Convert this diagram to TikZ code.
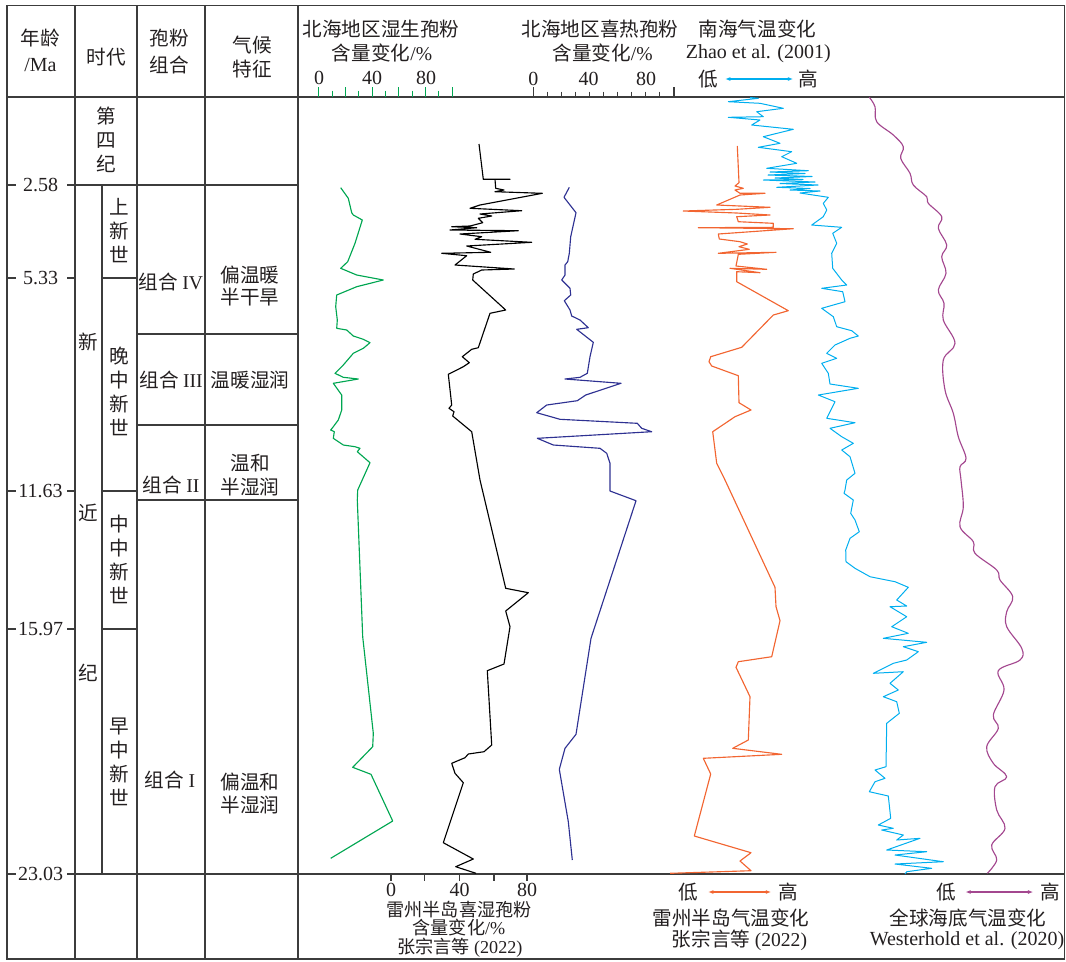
\documentclass[tikz,border=0pt]{standalone}
\usepackage{fontspec}
\setmainfont{Liberation Serif}
\newfontfamily\cjk{Noto Sans CJK SC}
\usetikzlibrary{arrows.meta}
\definecolor{frame}{RGB}{60,60,60}
\definecolor{txt}{RGB}{35,31,32}
\definecolor{cgreen}{RGB}{0,166,81}
\definecolor{cblue}{RGB}{46,49,146}
\definecolor{corange}{RGB}{242,101,49}
\definecolor{ccyan}{RGB}{0,174,239}
\definecolor{cpurple}{RGB}{163,71,143}
\begin{document}
\begin{tikzpicture}[x=0.75pt,y=-0.75pt,
  frameline/.style={draw=frame,line width=0.9pt},
  zh/.style={inner sep=0pt,text=txt,font=\cjk\fontsize{14.7}{18}\selectfont,align=center},
  zhs/.style={inner sep=0pt,text=txt,font=\cjk\fontsize{13.6}{16}\selectfont,align=center},
  la/.style={inner sep=0pt,text=txt,font=\fontsize{15}{18}\selectfont,align=center},
  curve/.style={line width=0.85pt,line join=round},
  dblarrow/.style={line width=0.8pt,{Latex[length=4pt,width=3pt]}-{Latex[length=4pt,width=3pt]}}
]
\useasboundingbox (0,0) rectangle (1066,961);

% ---------- frame ----------
\draw[frameline] (7,5.7) rectangle (1064.5,959);
\draw[frameline] (7,97) -- (1064.5,97);
\foreach \xx in {75,137,205,298} \draw[frameline] (\xx,5.7) -- (\xx,959);
\draw[frameline] (102,185) -- (102,874);
\draw[frameline] (67,185) -- (298,185);
\draw[frameline] (102,278) -- (137,278);
\draw[frameline] (137,334) -- (298,334);
\draw[frameline] (137,425) -- (298,425);
\draw[frameline] (102,491) -- (137,491);
\draw[frameline] (137,500) -- (298,500);
\draw[frameline] (102,629) -- (137,629);
\draw[frameline] (67,874) -- (1064.5,874);
\foreach \yy in {185,278,491,629,874} \draw[frameline] (7,\yy) -- (15.5,\yy);
\foreach \yy in {278,491,629} \draw[frameline] (67,\yy) -- (75,\yy);

% ---------- header texts ----------
\node[zh] (hAge) at (40,38.3) {年龄};
\node[la] (hMa) at (40.5,65) {/Ma};
\node[zh] (hEra) at (106,56.7) {时代};
\node[zh] (hPol1) at (169.5,38.3) {孢粉};
\node[zh] (hPol2) at (169.5,65) {组合};
\node[zh] (hCli1) at (252.5,45) {气候};
\node[zh] (hCli2) at (252.5,69) {特征};

\node[zh] (t1a) at (381,29.3) {北海地区湿生孢粉};
\node[zh] (t1b) at (382,53.3) {含量变化{\rmfamily /\%}};
\node[la] (s1a) at (319,78.3) {0};
\node[la] (s1b) at (372,78.3) {40};
\node[la] (s1c) at (426,78.3) {80};
\foreach \i in {0,...,10}{
  \pgfmathsetmacro{\xx}{318.8+13.35*\i}
  \ifodd\i \draw[cgreen,line width=0.8pt] (\xx,90.7) -- (\xx,97);
  \else \draw[cgreen,line width=0.8pt] (\xx,87.3) -- (\xx,97); \fi
}

\node[zh] (t2a) at (600,29.3) {北海地区喜热孢粉};
\node[zh] (t2b) at (602.5,53.3) {含量变化{\rmfamily /\%}};
\node[la] (s2a) at (533.3,79) {0};
\node[la] (s2b) at (588.5,79) {40};
\node[la] (s2c) at (646,79) {80};
\foreach \i in {1,...,9}{
  \pgfmathsetmacro{\xx}{533.3+14.07*\i}
  \draw[frame,line width=0.8pt] (\xx,91.7) -- (\xx,97);
}
\draw[frame,line width=0.8pt] (533.3,87.3) -- (533.3,97);
\draw[frame,line width=0.8pt] (674,87.3) -- (674,97);

\node[zh] (t3a) at (757.5,29.3) {南海气温变化};
\node[la] (t3b) at (758.3,53.3) {Zhao et al. (2001)};
\node[zh] (lo1) at (708.3,79) {低};
\node[zh] (hi1) at (808.3,79) {高};
\draw[dblarrow,ccyan,shorten <=5pt,shorten >=3.8pt] (lo1.east) -- (hi1.west);

% ---------- left table texts ----------
\node[la] (a1) at (40.5,185) {2.58};
\node[la] (a2) at (40.5,278) {5.33};
\node[la] (a3) at (40.5,491) {11.63};
\node[la] (a4) at (40.5,629) {15.97};
\node[la] (a5) at (40.5,874) {23.03};

\node[zh] (q) at (106.5,140) {第\\四\\纪};
\node[zh] (plio) at (119.3,231) {上\\新\\世};
\node[zh] (n1) at (88.3,341.7) {新};
\node[zh] (n2) at (88.3,513) {近};
\node[zh] (n3) at (88.3,673) {纪};
\node[zh] (lmio) at (119.3,391) {晚\\中\\新\\世};
\node[zh] (mmio) at (119.3,559) {中\\中\\新\\世};
\node[zh] (emio) at (119.3,761.7) {早\\中\\新\\世};

\node[zh] (g4) at (171,281.7) {组合 {\rmfamily IV}};
\node[zh] (g3) at (171,380) {组合 {\rmfamily III}};
\node[zh] (g2) at (171,485) {组合 {\rmfamily II}};
\node[zh] (g1) at (170,780) {组合 {\rmfamily I}};

\node[zh] (c4a) at (250,275) {偏温暖};
\node[zh] (c4b) at (250,296.7) {半干旱};
\node[zh] (c3) at (250,380) {温暖湿润};
\node[zh] (c2a) at (250,463) {温和};
\node[zh] (c2b) at (250,486.7) {半湿润};
\node[zh] (c1a) at (250,781.7) {偏温和};
\node[zh] (c1b) at (250,805) {半湿润};

% ---------- bottom axis and texts ----------
\foreach \xx in {391,424.5,459.5,494,527} \draw[frame,line width=0.8pt] (\xx,874) -- (\xx,881);
\node[la] (b0) at (391,890) {0};
\node[la] (b40) at (459.5,890) {40};
\node[la] (b80) at (527,890) {80};
\node[zhs] (bt1) at (459,909.5) {雷州半岛喜湿孢粉};
\node[zhs] (bt2) at (459,928) {含量变化{\rmfamily /\%}};
\node[zhs] (bt3) at (460,947.5) {张宗言等 {\rmfamily (2022)}};

\node[zh] (lo2) at (688,892) {低};
\node[zh] (hi2) at (788.5,892) {高};
\draw[dblarrow,corange,shorten <=7.5pt,shorten >=5.5pt] (lo2.east) -- (hi2.west);
\node[zh] (ot1) at (731,918) {雷州半岛气温变化};
\node[zh] (ot2) at (739.5,940.5) {张宗言等 {\rmfamily (2022)}};

\node[zh] (lo3) at (946,892) {低};
\node[zh] (hi3) at (1050,892) {高};
\draw[dblarrow,cpurple,shorten <=7pt,shorten >=5pt] (lo3.east) -- (hi3.west);
\node[zh] (pt1) at (968,918) {全球海底气温变化};
\node[la] (pt2) at (967,940.5) {Westerhold et al. (2020)};

% ---------- curves ----------
% green: North Sea hygrophilous
\draw[curve,cgreen] plot coordinates {(340.7,187.7) (348.3,198.3) (351.7,212.7) (353.3,215) (362.3,220) (355,243.3) (347.7,261.7) (340.7,268.3) (356.7,275) (383.3,280) (356.7,286.7) (336.7,295) (335.7,306.7) (337.3,320) (336.7,328.3) (346.7,330) (353.3,336) (363.3,339.3) (370,342.7) (363.3,348.3) (353.3,353.3) (343.3,365) (335,373.3) (343.3,377.3) (358.3,379) (333.3,383.3) (341.7,395) (341.7,410) (338.3,420) (333.3,426.7) (330.7,430) (334.3,431.7) (333.3,438.3) (343.3,445) (355,446.7) (360,448.3) (357.3,451.7) (370,462.7) (357.7,490) (357.3,500) (362.7,636.7) (373.3,733.3) (372.7,746.7) (352.7,767.3) (371,774.3) (392.7,821) (330.7,858.3)};

% black: Leizhou hygrophilous
\draw[curve,black] plot coordinates {(479,144) (483.3,179.3) (510,179.3) (495,179.3) (495.7,188.3) (504,190) (495,191.7) (542.3,193.3) (480,205) (470,208.3) (521.7,210.7) (480,214) (491.7,216) (478.3,218.3) (482.7,222.7) (470,226) (451.7,226.7) (476.7,227.7) (450,230) (518.3,230.7) (460,234) (481.7,236.7) (475,239.3) (531.7,242.3) (466.7,246) (490.7,252.3) (441.7,253.3) (466.7,255.7) (455,265) (514.3,269) (481.7,270) (473.3,274) (472.7,280) (505.7,310) (490,313.3) (478.3,347.7) (471.7,349.3) (462.3,356.7) (469.3,362.7) (463.3,366.7) (448.3,374.3) (451.7,405) (449,408.3) (454,411.7) (452.7,416) (471.7,431.7) (480,480) (505.7,588.3) (528.3,592.7) (505.7,611) (510,626.7) (504,664) (487.3,670.7) (491.7,745) (484,751.7) (468.3,754) (465,757.7) (451.7,763.3) (455,773.3) (463.3,782.7) (443.3,842.7) (473.3,859) (455.7,866.7) (476,873.3)};

% blue: North Sea thermophilous
\draw[curve,cblue] plot coordinates {(569.3,187.3) (564,197.3) (576,212.7) (570.7,236.7) (569.3,253.3) (567.7,261.7) (565,265) (565,275) (561.7,280) (570,288.3) (570.7,295) (564.3,300.7) (570,310) (571.7,316) (580,320) (588.3,327.7) (576.7,329.3) (593.3,342.3) (590,356.7) (587.3,373.3) (580,377.3) (565,379) (621,383.3) (585.7,395) (577.3,400.7) (546.7,405) (536.7,412.7) (560,419.3) (637.3,423.3) (641.7,428.3) (651.7,431.7) (537.3,438.3) (553.3,445) (600,448.3) (606.7,453.3) (610,463.3) (610,491) (636,500.7) (591,638.3) (576,734.3) (565,748.3) (559.3,769.3) (568.3,821.7) (572.3,860)};

% orange: Leizhou temperature
\draw[curve,corange] plot coordinates {(737.3,146) (739,182.7) (735,186) (743.3,188.3) (735,190) (740,193.3) (765,193.3) (740,195) (716.7,205) (770,207.3) (736.7,209.3) (683.3,211) (736.7,213) (770,215) (736.7,216.7) (738.3,221.7) (773.3,223.3) (773.3,227.3) (698.3,227.7) (793.3,228.7) (718.3,234) (719.3,239) (740,241.7) (747.3,244) (739,246.7) (749.3,249.3) (718.3,253.3) (776,252.3) (738.3,254.3) (736,266) (766.7,269.3) (730,268.3) (760,272.7) (736.7,271.7) (736.7,281.7) (788.3,310.7) (773.3,315) (741.7,347.3) (710.7,356.7) (709,361.7) (711.7,366) (738.3,375.7) (739,402.7) (751,410) (735,416.7) (712.7,431.7) (716.7,463.3) (725,480) (775,587.3) (776,606.7) (780,620.7) (771.7,656.7) (738.3,661.7) (736,667.3) (750,696.7) (748.3,740) (732.7,748.3) (781.7,754.3) (703.3,758.3) (710.7,774) (694.3,836) (751,852.7) (740,861) (751,870.7) (670,873.3)};

% cyan: South China Sea temperature
\draw[line width=0.75pt,line join=round,ccyan] plot coordinates {(750,97.5) (758.3,98.3) (728.3,101.7) (760,103.3) (783.3,108.3) (756.7,111.7) (763.3,116.7) (728.3,117.3) (760,120) (751.7,125) (793.3,129.3) (763.3,136.7) (780,143.3) (758.3,147.3) (791.7,151.7) (781.7,156.7) (796.7,163.3) (766.7,168.3) (808.3,170.7) (770,172) (805,173.5) (768,175) (812,176.5) (775,178) (803,179.5) (763.3,180) (815,182) (780,183.5) (818,185) (776.7,187.3) (810,188.5) (790,190) (820,191) (800,193) (828.3,197.3) (823.3,203.3) (826.7,210) (823.3,216.7) (811.7,225) (841.7,227.3) (832.7,233.3) (836.7,243.3) (831.7,253.3) (832.7,268.3) (841.7,280) (846.7,285) (821.7,288.3) (842.7,291.7) (845,301.7) (821.7,308.3) (833.3,316.7) (836.7,326.7) (851.7,330.7) (858.3,336) (850,338.3) (835,345) (826.7,353.3) (836.7,358.3) (821.7,363.3) (828.3,373.3) (830,384) (858.3,388.3) (818.3,395) (835,401.7) (826.7,418.3) (855,422.7) (830,428.3) (841.7,436.7) (853.3,443.3) (841.7,450) (850,456.7) (855,473.3) (846.7,480) (845,490) (844,493.3) (853.3,500) (850.7,513.3) (855,520) (859.3,531.7) (850,538.3) (845.7,550) (846,561.7) (855,568.3) (870,576.7) (895,581.7) (908.3,587.3) (896.7,600) (906.7,606) (890,606.7) (906.7,616.7) (891.7,626.7) (908.3,633.3) (883.3,638.3) (926.7,642.3) (903.3,646.7) (918.3,651.7) (906.7,660) (893.3,663.3) (873.3,673.3) (903.3,671.7) (890,683.3) (898.3,690) (883.3,696.7) (896.7,701.7) (899.3,713.3) (886.7,723.3) (886,766.7) (875,770) (885,778.3) (875,781.7) (869.3,791.7) (888.3,796) (890.7,818.3) (878.3,825) (893.3,828.3) (881.7,830) (903.3,835) (896.7,840) (920,838.3) (886.7,850) (926.7,851.7) (895,855) (943.3,861.7) (895,864) (931.7,868.3) (906.7,871.7) (905,874)};

% purple: global deep-sea temperature
\draw[curve,cpurple] plot[smooth,tension=0.6] coordinates {(869.3,97.3) (875,106.7) (876.7,121.7) (893.3,135) (903.3,146.7) (900.7,158.3) (910,173.3) (913.3,185) (926.7,196.7) (928.3,203.3) (941.7,216.7) (938.3,228.3) (946.7,245) (941.7,256.7) (946,273.3) (938.3,290) (944,303.3) (943.3,320) (955,343.3) (943.3,360) (945,390) (953.3,413.3) (958.3,436.7) (966,458.3) (960,466.7) (961,480) (963.3,506.7) (960,526.7) (973.3,541.7) (975,553.3) (996.7,570) (1000,580) (1012.7,596.7) (1006.7,611.7) (1006.7,626.7) (1021.7,648.3) (1020,660) (998.3,670.7) (1004,690) (993.3,715) (998.3,728.3) (986.7,746.7) (993.3,763.3) (1006.7,776.7) (995,786.7) (996.7,810) (1005,828.3) (991.7,845) (996.7,860) (987.3,873.3)};
\end{tikzpicture}
\end{document}
